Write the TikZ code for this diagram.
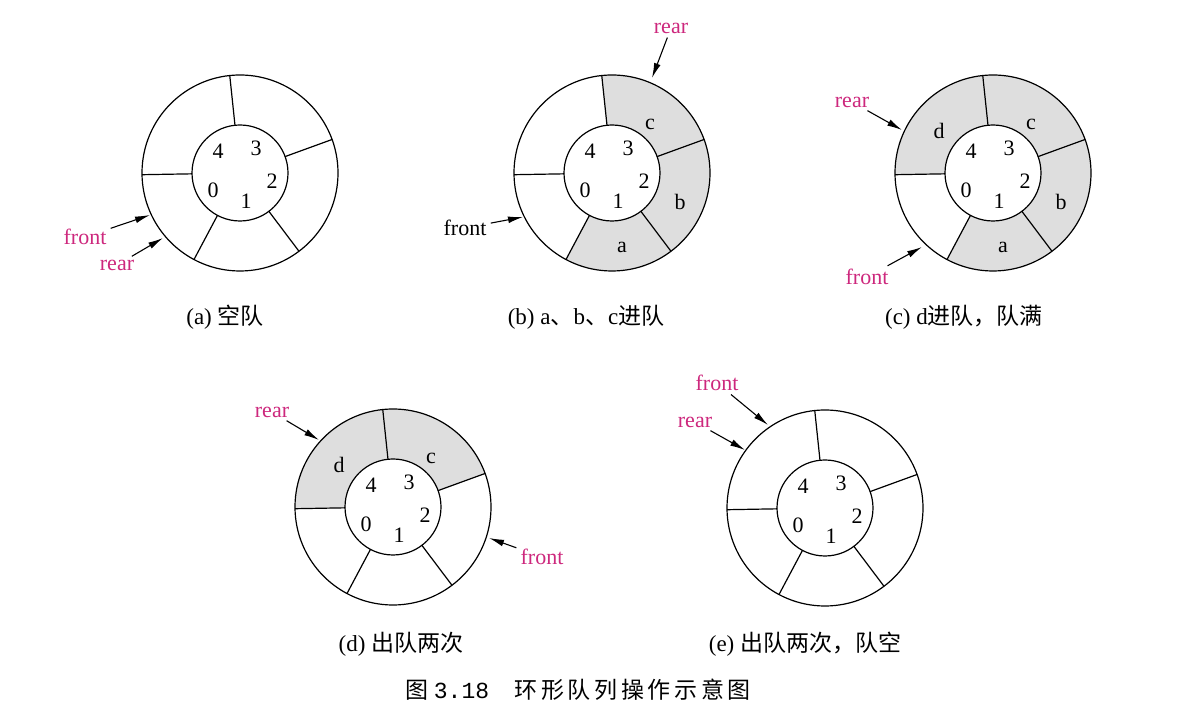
\documentclass[tikz,border=0pt]{standalone}
\usepackage{fontspec}
\setmainfont{Liberation Serif}
\setmonofont{Liberation Mono}
\newfontfamily\cjk{Noto Sans CJK SC}
\newfontfamily\cjkwide{Noto Sans CJK SC}[LetterSpace=16]
\usetikzlibrary{arrows.meta}
\definecolor{qpink}{RGB}{205,40,125}
\begin{document}
\begin{tikzpicture}[x=0.5pt,y=0.5pt,
  ring/.style={line width=0.6pt},
  qfill/.style={fill=black!13},
  pin/.style={-{Latex[length=7.5pt,width=3.4pt]},line width=0.55pt,shorten <=1pt},
  ptr/.style={text=qpink,font=\fontsize{11}{13}\selectfont,inner sep=1pt},
  idx/.style={font=\fontsize{11}{13}\selectfont,inner sep=0pt},
  capt/.style={font=\fontsize{11.5}{13}\selectfont,inner sep=0pt}]
\useasboundingbox (0,0) rectangle (1200,728);

% ring centres
\coordinate (ca) at (240,555);
\coordinate (cb) at (612,555);
\coordinate (cc) at (993,555);
\coordinate (cd) at (393,221);
\coordinate (ce) at (825,220);

% occupied slots
\foreach \c/\lo/\hi in {cb/-118/-53, cb/-53/20, cb/20/96,
    cc/-118/-53, cc/-53/20, cc/20/96, cc/96/181,
    cd/20/96, cd/96/181}
  \fill[qfill] ([shift={(\lo:48)}]\c) arc[start angle=\lo,end angle=\hi,radius=48]
    -- ([shift={(\hi:98)}]\c) arc[start angle=\hi,end angle=\lo,radius=98] -- cycle;

% rings, spokes and slot numbers
\foreach \c in {ca,cb,cc,cd,ce}{
  \draw[ring] (\c) circle[radius=98];
  \draw[ring] (\c) circle[radius=48];
  \foreach \a in {96,20,-53,-118,181}
    \draw[ring] ([shift={(\a:48)}]\c) -- ([shift={(\a:98)}]\c);
  \node[idx] (\c-0) at ([shift={(-27,-17)}]\c) {0};
  \node[idx] (\c-1) at ([shift={(6,-28)}]\c) {1};
  \node[idx] (\c-2) at ([shift={(32,-8)}]\c) {2};
  \node[idx] (\c-3) at ([shift={(16,25)}]\c) {3};
  \node[idx] (\c-4) at ([shift={(-22,22)}]\c) {4};
}

% queue elements
\node[idx] (b-a) at ([shift={(10,-74)}]cb) {a};
\node[idx] (b-b) at ([shift={(68,-29)}]cb) {b};
\node[idx] (b-c) at ([shift={(38,49)}]cb) {c};
\node[idx] (c-a) at ([shift={(10,-74)}]cc) {a};
\node[idx] (c-b) at ([shift={(68,-29)}]cc) {b};
\node[idx] (c-c) at ([shift={(38,49)}]cc) {c};
\node[idx] (c-d) at ([shift={(-54,42)}]cc) {d};
\node[idx] (d-c) at ([shift={(38,49)}]cd) {c};
\node[idx] (d-d) at ([shift={(-54,42)}]cd) {d};

% front / rear pointers
\node[ptr] (fa) at (85,491) {front};
\coordinate (fa-t) at (150,513);
\draw[pin] (fa) -- (fa-t);
\node[ptr] (ra) at (117,463) {rear};
\coordinate (ra-t) at (163,490);
\draw[pin] (ra) -- (ra-t);

\node[ptr] (rb) at (671,700) {rear};
\coordinate (rb-t) at (652,650);
\draw[pin] (rb) -- (rb-t);
\node[ptr,text=black] (fb) at (465,500) {front};
\coordinate (fb-t) at (523,511);
\draw[pin] (fb) -- (fb-t);

\node[ptr] (rc) at (852,626) {rear};
\coordinate (rc-t) at (902,598);
\draw[pin] (rc) -- (rc-t);
\node[ptr] (fc) at (867,451) {front};
\coordinate (fc-t) at (922,481);
\draw[pin] (fc) -- (fc-t);

\node[ptr] (rd) at (272,316) {rear};
\coordinate (rd-t) at (319,288);
\draw[pin] (rd) -- (rd-t);
\node[ptr] (fd) at (542,171) {front};
\coordinate (fd-t) at (489,190);
\draw[pin] (fd) -- (fd-t);

\node[ptr] (fe) at (717,345) {front};
\coordinate (fe-t) at (768,303);
\draw[pin] (fe) -- (fe-t);
\node[ptr] (re) at (695,306) {rear};
\coordinate (re-t) at (745,278);
\draw[pin] (re) -- (re-t);

% captions
\node[capt] (capa) at (225,411) {(a) {\cjk 空队}};
\node[capt] (capb) at (586,411) {(b) a{\cjk 、}b{\cjk 、}c{\cjk 进队}};
\node[capt] (capc) at (964,411) {(c) d{\cjk 进队，队满}};
\node[capt] (capd) at (401,84) {(d) {\cjk 出队两次}};
\node[capt] (cape) at (805,84) {(e) {\cjk 出队两次，队空}};
\node[capt] (title) at (578,38)
  {{\cjk 图} \texttt{3.18}\hspace{1.1em}{\cjkwide 环形队列操作示意图}};
\end{tikzpicture}
\end{document}
